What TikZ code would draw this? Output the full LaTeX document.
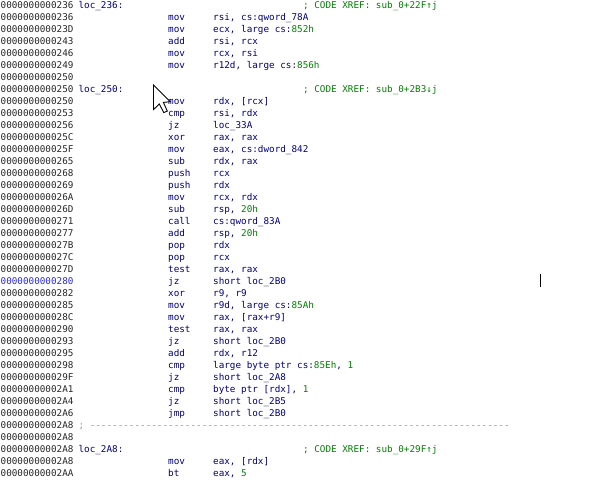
\documentclass[tikz,border=0pt]{standalone}
\usepackage{fontspec}
\setmonofont{DejaVu Sans Mono}
\definecolor{idanavy}{RGB}{0,0,128}
\definecolor{idagreen}{RGB}{0,128,0}
\definecolor{idablue}{RGB}{40,40,235}
\definecolor{idagray}{RGB}{150,150,150}
\newcommand{\imm}[1]{\textcolor{idagreen}{#1}}

\begin{document}
\frenchspacing
\begin{tikzpicture}[x=1pt,y=-1pt,
        every node/.style={inner sep=0pt, anchor=base west, font=\ttfamily\fontsize{9.3}{11}\selectfont},
        addr/.style={text=black!85},
        lab/.style={text=idanavy},
        mnem/.style={text=idanavy},
        opnd/.style={text=idanavy},
        xref/.style={text=idagreen},
        sep/.style={text=idagray},
        mouse/.style={draw=black, fill=white, line width=0.9pt, line join=miter}]
        \useasboundingbox (0,0) rectangle (616,484);
        % loc_236
        \node[addr] (a1) at (0.5,8.3) {0000000000236}; \node[lab] (l1) at (78.4,8.3) {loc\_236:}; \node[xref] (c1) at (303,8.3) {; CODE XREF: sub\_0+22F↑j};
        \node[addr] (a2) at (0.5,20.3) {0000000000236}; \node[mnem] (m2) at (168,20.3) {mov}; \node[opnd] (o2) at (213,20.3) {rsi, cs:qword\_78A};
        \node[addr] (a3) at (0.5,32.3) {000000000023D}; \node[mnem] (m3) at (168,32.3) {mov}; \node[opnd] (o3) at (213,32.3) {ecx, large cs:\imm{852h}};
        \node[addr] (a4) at (0.5,44.3) {0000000000243}; \node[mnem] (m4) at (168,44.3) {add}; \node[opnd] (o4) at (213,44.3) {rsi, rcx};
        \node[addr] (a5) at (0.5,56.3) {0000000000246}; \node[mnem] (m5) at (168,56.3) {mov}; \node[opnd] (o5) at (213,56.3) {rcx, rsi};
        \node[addr] (a6) at (0.5,68.3) {0000000000249}; \node[mnem] (m6) at (168,68.3) {mov}; \node[opnd] (o6) at (213,68.3) {r12d, large cs:\imm{856h}};
        \node[addr] (a7) at (0.5,80.3) {0000000000250};
        % loc_250
        \node[addr] (a8) at (0.5,92.3) {0000000000250}; \node[lab] (l8) at (78.4,92.3) {loc\_250:}; \node[xref] (c8) at (303,92.3) {; CODE XREF: sub\_0+2B3↓j};
        \node[addr] (a9) at (0.5,104.3) {0000000000250}; \node[mnem] (m9) at (168,104.3) {mov}; \node[opnd] (o9) at (213,104.3) {rdx, [rcx]};
        \node[addr] (a10) at (0.5,116.3) {0000000000253}; \node[mnem] (m10) at (168,116.3) {cmp}; \node[opnd] (o10) at (213,116.3) {rsi, rdx};
        \node[addr] (a11) at (0.5,128.3) {0000000000256}; \node[mnem] (m11) at (168,128.3) {jz}; \node[opnd] (o11) at (213,128.3) {loc\_33A};
        \node[addr] (a12) at (0.5,140.3) {000000000025C}; \node[mnem] (m12) at (168,140.3) {xor}; \node[opnd] (o12) at (213,140.3) {rax, rax};
        \node[addr] (a13) at (0.5,152.3) {000000000025F}; \node[mnem] (m13) at (168,152.3) {mov}; \node[opnd] (o13) at (213,152.3) {eax, cs:dword\_842};
        \node[addr] (a14) at (0.5,164.3) {0000000000265}; \node[mnem] (m14) at (168,164.3) {sub}; \node[opnd] (o14) at (213,164.3) {rdx, rax};
        \node[addr] (a15) at (0.5,176.3) {0000000000268}; \node[mnem] (m15) at (168,176.3) {push}; \node[opnd] (o15) at (213,176.3) {rcx};
        \node[addr] (a16) at (0.5,188.3) {0000000000269}; \node[mnem] (m16) at (168,188.3) {push}; \node[opnd] (o16) at (213,188.3) {rdx};
        \node[addr] (a17) at (0.5,200.3) {000000000026A}; \node[mnem] (m17) at (168,200.3) {mov}; \node[opnd] (o17) at (213,200.3) {rcx, rdx};
        \node[addr] (a18) at (0.5,212.3) {000000000026D}; \node[mnem] (m18) at (168,212.3) {sub}; \node[opnd] (o18) at (213,212.3) {rsp, \imm{20h}};
        \node[addr] (a19) at (0.5,224.3) {0000000000271}; \node[mnem] (m19) at (168,224.3) {call}; \node[opnd] (o19) at (213,224.3) {cs:qword\_83A};
        \node[addr] (a20) at (0.5,236.3) {0000000000277}; \node[mnem] (m20) at (168,236.3) {add}; \node[opnd] (o20) at (213,236.3) {rsp, \imm{20h}};
        \node[addr] (a21) at (0.5,248.3) {000000000027B}; \node[mnem] (m21) at (168,248.3) {pop}; \node[opnd] (o21) at (213,248.3) {rdx};
        \node[addr] (a22) at (0.5,260.3) {000000000027C}; \node[mnem] (m22) at (168,260.3) {pop}; \node[opnd] (o22) at (213,260.3) {rcx};
        \node[addr] (a23) at (0.5,272.3) {000000000027D}; \node[mnem] (m23) at (168,272.3) {test}; \node[opnd] (o23) at (213,272.3) {rax, rax};
        \node[addr, text=idablue] (a24) at (0.5,284.3) {0000000000280}; \node[mnem] (m24) at (168,284.3) {jz}; \node[opnd] (o24) at (213,284.3) {short loc\_2B0};
        \node[addr] (a25) at (0.5,296.3) {0000000000282}; \node[mnem] (m25) at (168,296.3) {xor}; \node[opnd] (o25) at (213,296.3) {r9, r9};
        \node[addr] (a26) at (0.5,308.3) {0000000000285}; \node[mnem] (m26) at (168,308.3) {mov}; \node[opnd] (o26) at (213,308.3) {r9d, large cs:\imm{85Ah}};
        \node[addr] (a27) at (0.5,320.3) {000000000028C}; \node[mnem] (m27) at (168,320.3) {mov}; \node[opnd] (o27) at (213,320.3) {rax, [rax+r9]};
        \node[addr] (a28) at (0.5,332.3) {0000000000290}; \node[mnem] (m28) at (168,332.3) {test}; \node[opnd] (o28) at (213,332.3) {rax, rax};
        \node[addr] (a29) at (0.5,344.3) {0000000000293}; \node[mnem] (m29) at (168,344.3) {jz}; \node[opnd] (o29) at (213,344.3) {short loc\_2B0};
        \node[addr] (a30) at (0.5,356.3) {0000000000295}; \node[mnem] (m30) at (168,356.3) {add}; \node[opnd] (o30) at (213,356.3) {rdx, r12};
        \node[addr] (a31) at (0.5,368.3) {0000000000298}; \node[mnem] (m31) at (168,368.3) {cmp}; \node[opnd] (o31) at (213,368.3) {large byte ptr cs:\imm{85Eh}, \imm{1}};
        \node[addr] (a32) at (0.5,380.3) {000000000029F}; \node[mnem] (m32) at (168,380.3) {jz}; \node[opnd] (o32) at (213,380.3) {short loc\_2A8};
        \node[addr] (a33) at (0.5,392.3) {00000000002A1}; \node[mnem] (m33) at (168,392.3) {cmp}; \node[opnd] (o33) at (213,392.3) {byte ptr [rdx], \imm{1}};
        \node[addr] (a34) at (0.5,404.3) {00000000002A4}; \node[mnem] (m34) at (168,404.3) {jz}; \node[opnd] (o34) at (213,404.3) {short loc\_2B5};
        \node[addr] (a35) at (0.5,416.3) {00000000002A6}; \node[mnem] (m35) at (168,416.3) {jmp}; \node[opnd] (o35) at (213,416.3) {short loc\_2B0};
        \node[addr] (a36) at (0.5,428.3) {00000000002A8}; \node[sep] (s36) at (78.4,428.3) {; ---------------------------------------------------------------------------};
        \node[addr] (a37) at (0.5,440.3) {00000000002A8};
        % loc_2A8
        \node[addr] (a38) at (0.5,452.3) {00000000002A8}; \node[lab] (l38) at (78.4,452.3) {loc\_2A8:}; \node[xref] (c38) at (303,452.3) {; CODE XREF: sub\_0+29F↑j};
        \node[addr] (a39) at (0.5,464.3) {00000000002A8}; \node[mnem] (m39) at (168,464.3) {mov}; \node[opnd] (o39) at (213,464.3) {eax, [rdx]};
        \node[addr] (a40) at (0.5,476.3) {00000000002AA}; \node[mnem] (m40) at (168,476.3) {bt}; \node[opnd] (o40) at (213,476.3) {eax, \imm{5}};
        % pointer and caret
        \draw[mouse] (153.5,85) -- ++(0,24.6) -- ++(5.8,-5.7) -- ++(4.4,8.7) -- ++(3.6,-1.5) -- ++(-3.9,-8.7) -- ++(6.8,-0.7) -- cycle;
        \draw[line width=1.3pt] (540.5,274) -- (540.5,287);
    \end{tikzpicture}
\end{document}
